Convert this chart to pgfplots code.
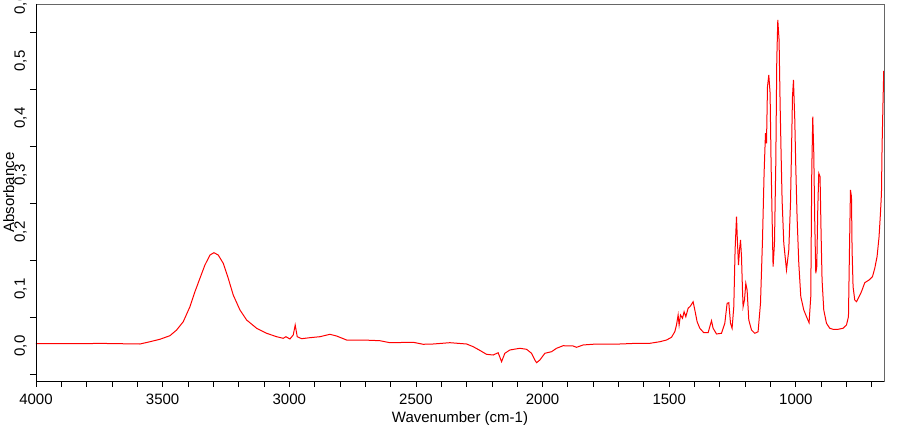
\documentclass[border=0pt]{standalone}
\usepackage{fontspec}
\setmainfont{Liberation Sans}
\usepackage{pgfplots}
\pgfplotsset{compat=1.18}
\pgfplotstableread{
w A
4000 0.0040
3900 0.0042
3820 0.0040
3750 0.0046
3680 0.0041
3589.5 0.0035
3550 0.0075
3510.6 0.0118
3471.1 0.0181
3444.7 0.0281
3418.6 0.0426
3392.2 0.0689
3372.4 0.0953
3352.7 0.1188
3333 0.1421
3313.2 0.1596
3297.4 0.1637
3280.5 0.1596
3260.7 0.1451
3241 0.1188
3221.3 0.0895
3194.8 0.0632
3168.4 0.0456
3128.9 0.0311
3089.4 0.0223
3050 0.0163
3023.9 0.0135
3013.2 0.0163
2997.5 0.0123
2984.4 0.0193
2976.6 0.0368
2968.6 0.0163
2951.3 0.0128
2918.5 0.0146
2879 0.0163
2839.6 0.0205
2813.1 0.0175
2773.7 0.0105
2708.1 0.0105
2642.2 0.0093
2602.8 0.0058
2510.8 0.0065
2471.3 0.0030
2431.9 0.0035
2365.9 0.0058
2300 0.0035
2274 -0.0012
2250.3 -0.0070
2221.1 -0.0146
2195 -0.0158
2175.3 -0.0118
2161.9 -0.0275
2148.9 -0.0128
2129.1 -0.0070
2089.7 -0.0040
2063.2 -0.0058
2043.5 -0.0128
2030.5 -0.0246
2023.7 -0.0293
2010.7 -0.0246
1991 -0.0128
1964.5 -0.0100
1944.8 -0.0040
1918.7 0.0005
1879.3 0.0000
1865.9 -0.0023
1839.8 0.0018
1786.9 0.0035
1695 0.0035
1629 0.0047
1576.5 0.0047
1537 0.0075
1510.6 0.0105
1490.9 0.0153
1477.9 0.0251
1471.2 0.0368
1464.8 0.0544
1460.9 0.0368
1455.4 0.0544
1447.5 0.0486
1441.2 0.0602
1434.4 0.0514
1425.4 0.0661
1415.9 0.0702
1405.6 0.0777
1398.9 0.0632
1389.8 0.0426
1379.2 0.0311
1363.4 0.0233
1346.4 0.0233
1339.7 0.0339
1333 0.0444
1326.7 0.0311
1313.3 0.0211
1293.6 0.0223
1280.5 0.0398
1271.4 0.0749
1264.7 0.0760
1258 0.0398
1251.7 0.0311
1245 0.0689
1239.9 0.1684
1234.3 0.2268
1230.4 0.1802
1226.4 0.1421
1222.5 0.1684
1218.5 0.1860
1214.6 0.1567
1210.7 0.0982
1208.3 0.0689
1202.8 0.0807
1197.6 0.1100
1192.5 0.0982
1185.8 0.0456
1175.1 0.0281
1162.1 0.0223
1149.1 0.0251
1139.6 0.0749
1131.7 0.1860
1125.4 0.3030
1119.9 0.3732
1115.9 0.3556
1112 0.4549
1106.8 0.4754
1101.7 0.4433
1097.8 0.3205
1093.8 0.2268
1089.9 0.1391
1084.4 0.1802
1079.2 0.3205
1075.3 0.5018
1071.3 0.5719
1066.2 0.5368
1062.2 0.4258
1058.3 0.3381
1054.3 0.2561
1047.6 0.1802
1037 0.1333
1027.9 0.1684
1021.2 0.2504
1017.3 0.3381
1013.3 0.4374
1009.4 0.4667
1004.2 0.3965
1000.3 0.3146
995.2 0.2268
988.4 0.1451
980.5 0.0865
968.7 0.0632
958 0.0514
947.8 0.0409
941.1 0.0865
937.1 0.3088
933.2 0.4023
929.2 0.3381
925.3 0.2153
921.3 0.1275
917.4 0.1391
913.4 0.2416
909.5 0.3030
904.4 0.2970
900.4 0.1977
896.5 0.1158
889.8 0.0632
879.1 0.0398
866.1 0.0311
853.1 0.0293
833.3 0.0293
813.6 0.0311
800.2 0.0368
792.3 0.0514
788.3 0.1684
784.4 0.2737
780.4 0.2619
778 0.1684
774.1 0.1040
767.4 0.0807
760.7 0.0777
750.4 0.0865
741 0.0953
727.9 0.1111
711 0.1158
697.5 0.1216
688.5 0.1363
679.4 0.1567
671.5 0.1918
666 0.2328
662 0.2679
659.6 0.3496
655.7 0.4316
653 0.4825
}\spectrum
\begin{document}
\begin{tikzpicture}[font=\fontsize{15}{18}\selectfont]
\begin{axis}[
  name=ax,
  at={(36pt,44pt)}, anchor=south west,
  scale only axis, width=848pt, height=377pt,
  x dir=reverse, xmin=652, xmax=4000, ymin=-0.0614, ymax=0.6,
  axis line style={draw=black!60, line width=0.8pt},
  tick pos=left, tick align=outside,
  major tick length=6pt, minor tick length=6pt,
  tick style={black, line width=0.8pt},
  xtick={1000,1500,2000,2500,3000,3500,4000},
  minor xtick={700,800,...,3900},
  ytick={0,0.1,0.2,0.3,0.4,0.5,0.6},
  minor ytick={-0.05,0.05,0.15,0.25,0.35,0.45,0.55},
  major y tick style={draw=none},
  /pgf/number format/assume math mode=true,
  xticklabel style={/pgf/number format/set thousands separator={}, anchor=north, inner sep=0pt},
  yticklabel style={/pgf/number format/.cd, fixed, fixed zerofill, precision=1, use comma, /tikz/.cd, rotate=90, anchor=base, inner sep=0pt},
  xticklabel shift=7pt,
  yticklabel shift=5pt,
  xlabel={Wavenumber (cm-1)},
  ylabel={Absorbance},
  xlabel style={at={(axis description cs:0.5,-0.0796)}, anchor=north, inner sep=0pt},
  ylabel style={at={(axis description cs:-0.0259,0.5)}, anchor=base, inner sep=0pt},
]
\addplot[color=red, line width=1pt, mark=none] table[x=w, y=A] {\spectrum};
\end{axis}
\draw[black, line width=0.8pt] (ax.north west) -- (ax.south west) -- (ax.south east);
\pgfresetboundingbox
\path[use as bounding box] (0,0) rectangle (910pt,425pt);
\end{tikzpicture}
\end{document}
